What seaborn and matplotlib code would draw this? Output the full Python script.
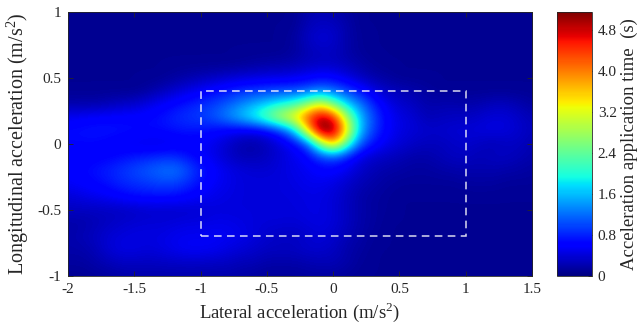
import matplotlib
matplotlib.use("Agg")
import matplotlib.pyplot as plt
import numpy as np
import seaborn as sns
from matplotlib.patches import Rectangle

# grid of the map: lateral acc. (columns) and longitudinal acc. (rows, top to bottom)
lat_acc = np.linspace(-2.0, 1.5, 36)
lon_acc = np.linspace(1.0, -1.0, 21)

# acceleration application time (s), one row per longitudinal value
app_time = [
    # y = 1.0
    [0.1, 0.1, 0.1, 0.1, 0.1, 0.1, 0.1, 0.1, 0.1, 0.1, 0.1, 0.1, 0.1, 0.1, 0.1, 0.1, 0.1, 0.1,
     0.2, 0.25, 0.2, 0.15, 0.1, 0.1, 0.1, 0.1, 0.1, 0.1, 0.1, 0.1, 0.1, 0.1, 0.1, 0.1, 0.1, 0.1],
    # y = 0.9
    [0.1, 0.1, 0.1, 0.1, 0.1, 0.1, 0.1, 0.1, 0.1, 0.1, 0.1, 0.1, 0.1, 0.1, 0.1, 0.1, 0.1, 0.1,
     0.25, 0.3, 0.3, 0.2, 0.1, 0.1, 0.1, 0.1, 0.1, 0.1, 0.1, 0.1, 0.1, 0.1, 0.1, 0.1, 0.1, 0.1],
    # y = 0.8
    [0.1, 0.1, 0.1, 0.1, 0.1, 0.1, 0.1, 0.1, 0.1, 0.1, 0.1, 0.1, 0.1, 0.1, 0.1, 0.1, 0.1, 0.15,
     0.3, 0.4, 0.35, 0.2, 0.12, 0.1, 0.1, 0.1, 0.1, 0.1, 0.1, 0.1, 0.1, 0.1, 0.1, 0.1, 0.1, 0.1],
    # y = 0.7
    [0.1, 0.1, 0.1, 0.1, 0.1, 0.1, 0.1, 0.1, 0.1, 0.1, 0.1, 0.1, 0.1, 0.1, 0.1, 0.1, 0.1, 0.15,
     0.25, 0.3, 0.3, 0.2, 0.12, 0.1, 0.1, 0.1, 0.1, 0.1, 0.1, 0.1, 0.1, 0.1, 0.1, 0.1, 0.1, 0.1],
    # y = 0.6
    [0.1, 0.1, 0.1, 0.1, 0.1, 0.1, 0.1, 0.1, 0.1, 0.1, 0.1, 0.1, 0.1, 0.12, 0.15, 0.18, 0.2, 0.22,
     0.28, 0.3, 0.3, 0.25, 0.18, 0.12, 0.1, 0.1, 0.1, 0.1, 0.1, 0.1, 0.1, 0.1, 0.1, 0.1, 0.1, 0.1],
    # y = 0.5
    [0.1, 0.1, 0.1, 0.1, 0.1, 0.1, 0.1, 0.1, 0.15, 0.2, 0.25, 0.3, 0.35, 0.4, 0.42, 0.45, 0.45, 0.5,
     0.55, 0.65, 0.6, 0.45, 0.3, 0.2, 0.15, 0.1, 0.1, 0.1, 0.1, 0.1, 0.1, 0.1, 0.1, 0.1, 0.1, 0.1],
    # y = 0.4
    [0.1, 0.1, 0.1, 0.1, 0.1, 0.1, 0.15, 0.25, 0.35, 0.45, 0.55, 0.65, 0.75, 0.85, 0.9, 0.95, 1.0, 1.0,
     1.1, 1.25, 1.15, 0.95, 0.7, 0.45, 0.3, 0.25, 0.2, 0.15, 0.1, 0.1, 0.1, 0.1, 0.1, 0.1, 0.1, 0.1],
    # y = 0.3
    [0.2, 0.2, 0.2, 0.25, 0.3, 0.35, 0.45, 0.55, 0.65, 0.75, 0.85, 0.95, 1.1, 1.3, 1.5, 1.7, 1.9, 2.1,
     2.6, 3.2, 2.4, 1.7, 1.25, 0.8, 0.5, 0.35, 0.3, 0.2, 0.22, 0.22, 0.2, 0.22, 0.28, 0.28, 0.22, 0.15],
    # y = 0.2
    [0.5, 0.55, 0.58, 0.6, 0.62, 0.62, 0.65, 0.72, 0.82, 0.9, 0.95, 1.1, 1.35, 1.65, 2.0, 2.5, 3.1, 3.5,
     4.3, 5.0, 4.6, 2.8, 1.6, 1.0, 0.6, 0.45, 0.38, 0.25, 0.28, 0.3, 0.3, 0.35, 0.4, 0.4, 0.32, 0.25],
    # y = 0.1
    [0.7, 0.72, 0.75, 0.75, 0.72, 0.7, 0.68, 0.68, 0.72, 0.75, 0.72, 0.65, 0.58, 0.52, 0.5, 0.6, 0.9, 1.6,
     3.4, 5.3, 5.2, 3.4, 1.6, 0.95, 0.6, 0.45, 0.4, 0.35, 0.35, 0.38, 0.4, 0.42, 0.45, 0.42, 0.35, 0.28],
    # y = 0.0
    [0.65, 0.65, 0.65, 0.6, 0.55, 0.5, 0.45, 0.45, 0.5, 0.55, 0.55, 0.48, 0.35, 0.22, 0.18, 0.28, 0.42, 0.6,
     1.0, 2.6, 3.8, 2.3, 1.1, 0.7, 0.5, 0.4, 0.32, 0.28, 0.28, 0.32, 0.35, 0.3, 0.25, 0.3, 0.3, 0.22],
    # y = -0.1
    [0.6, 0.6, 0.6, 0.62, 0.68, 0.75, 0.8, 0.85, 0.85, 0.72, 0.58, 0.48, 0.35, 0.25, 0.25, 0.3, 0.4, 0.5,
     0.6, 0.9, 1.0, 0.75, 0.45, 0.35, 0.3, 0.25, 0.2, 0.2, 0.25, 0.3, 0.3, 0.25, 0.3, 0.3, 0.25, 0.2],
    # y = -0.2
    [0.6, 0.65, 0.72, 0.8, 0.9, 1.0, 1.1, 1.2, 1.25, 1.05, 0.78, 0.6, 0.48, 0.42, 0.38, 0.38, 0.42, 0.48,
     0.52, 0.62, 0.62, 0.5, 0.35, 0.25, 0.2, 0.18, 0.15, 0.15, 0.18, 0.2, 0.22, 0.22, 0.22, 0.2, 0.18, 0.15],
    # y = -0.3
    [0.55, 0.6, 0.65, 0.72, 0.82, 0.88, 0.92, 0.98, 0.98, 0.85, 0.68, 0.55, 0.48, 0.42, 0.42, 0.42, 0.42, 0.45,
     0.5, 0.5, 0.45, 0.35, 0.25, 0.2, 0.15, 0.12, 0.12, 0.12, 0.12, 0.12, 0.15, 0.15, 0.15, 0.12, 0.12, 0.12],
    # y = -0.4
    [0.4, 0.45, 0.5, 0.55, 0.62, 0.68, 0.7, 0.7, 0.68, 0.62, 0.55, 0.48, 0.45, 0.42, 0.42, 0.42, 0.42, 0.42,
     0.45, 0.45, 0.4, 0.3, 0.2, 0.15, 0.12, 0.1, 0.1, 0.1, 0.1, 0.1, 0.1, 0.1, 0.1, 0.1, 0.1, 0.1],
    # y = -0.5
    [0.3, 0.3, 0.3, 0.3, 0.3, 0.32, 0.35, 0.35, 0.35, 0.35, 0.38, 0.42, 0.42, 0.42, 0.42, 0.42, 0.42, 0.42,
     0.45, 0.45, 0.4, 0.3, 0.2, 0.15, 0.12, 0.1, 0.1, 0.1, 0.1, 0.1, 0.1, 0.1, 0.1, 0.1, 0.1, 0.1],
    # y = -0.6
    [0.2, 0.2, 0.25, 0.3, 0.35, 0.38, 0.4, 0.4, 0.42, 0.45, 0.45, 0.48, 0.48, 0.45, 0.42, 0.4, 0.4, 0.38,
     0.42, 0.45, 0.4, 0.3, 0.2, 0.15, 0.1, 0.1, 0.1, 0.1, 0.1, 0.1, 0.1, 0.1, 0.1, 0.1, 0.1, 0.1],
    # y = -0.7
    [0.2, 0.25, 0.3, 0.38, 0.42, 0.45, 0.45, 0.45, 0.5, 0.52, 0.52, 0.55, 0.52, 0.48, 0.42, 0.35, 0.3, 0.3,
     0.35, 0.4, 0.35, 0.25, 0.18, 0.12, 0.1, 0.1, 0.1, 0.1, 0.1, 0.1, 0.1, 0.1, 0.1, 0.1, 0.1, 0.1],
    # y = -0.8
    [0.2, 0.2, 0.25, 0.38, 0.45, 0.45, 0.4, 0.45, 0.5, 0.55, 0.55, 0.52, 0.45, 0.4, 0.35, 0.3, 0.3, 0.3,
     0.35, 0.35, 0.3, 0.2, 0.15, 0.1, 0.1, 0.1, 0.1, 0.1, 0.1, 0.1, 0.1, 0.1, 0.1, 0.1, 0.1, 0.1],
    # y = -0.9
    [0.15, 0.15, 0.2, 0.25, 0.3, 0.3, 0.3, 0.3, 0.32, 0.32, 0.32, 0.3, 0.3, 0.25, 0.25, 0.2, 0.2, 0.2,
     0.22, 0.25, 0.25, 0.2, 0.12, 0.1, 0.1, 0.1, 0.1, 0.1, 0.1, 0.1, 0.1, 0.1, 0.1, 0.1, 0.1, 0.1],
    # y = -1.0
    [0.1, 0.1, 0.12, 0.15, 0.18, 0.2, 0.2, 0.2, 0.2, 0.2, 0.2, 0.2, 0.2, 0.18, 0.15, 0.12, 0.12, 0.12,
     0.15, 0.15, 0.15, 0.12, 0.1, 0.1, 0.1, 0.1, 0.1, 0.1, 0.1, 0.1, 0.1, 0.1, 0.1, 0.1, 0.1, 0.1],
]

# dashed region on the map
box_lat = [-1.0, 1.0]
box_lon = [-0.7, 0.4]

x_ticks = [-2, -1.5, -1, -0.5, 0, 0.5, 1, 1.5]
x_tick_labels = ['-2', '-1.5', '-1', '-0.5', '0', '0.5', '1', '1.5']
y_ticks = [-1, -0.5, 0, 0.5, 1]
y_tick_labels = ['-1', '-0.5', '0', '0.5', '1']
cbar_ticks = [0, 0.8, 1.6, 2.4, 3.2, 4.0, 4.8]
cbar_tick_labels = ['0', '0.8', '1.6', '2.4', '3.2', '4.0', '4.8']
time_max = 5.15

sns.set_theme(style="ticks")
plt.rcParams['font.family'] = ['Liberation Serif', 'DejaVu Serif']
plt.rcParams['mathtext.fontset'] = 'custom'
plt.rcParams['mathtext.rm'] = 'Liberation Serif'
plt.rcParams['axes.unicode_minus'] = False

txt = '#262626'
fig = plt.figure(figsize=(6.41, 3.33), dpi=100)
ax = fig.add_axes([0.106, 0.171, 0.724, 0.793])
cax = fig.add_axes([0.869, 0.171, 0.055, 0.793])

cmap = plt.get_cmap('jet')
dx = (lat_acc[1] - lat_acc[0]) / 2
dy = (lon_acc[0] - lon_acc[1]) / 2
im = ax.imshow(np.array(app_time), cmap=cmap, vmin=0, vmax=time_max,
               interpolation='bicubic', aspect='auto',
               extent=[lat_acc[0] - dx, lat_acc[-1] + dx, lon_acc[-1] - dy, lon_acc[0] + dy])

ax.add_patch(Rectangle((box_lat[0], box_lon[0]), box_lat[1] - box_lat[0], box_lon[1] - box_lon[0],
                       fill=False, ec='white', lw=1.1, ls=(0, (5, 3.5)), alpha=0.85))

ax.set_xlim(-2, 1.5)
ax.set_ylim(-1, 1)
ax.set_xticks(x_ticks)
ax.set_xticklabels(x_tick_labels)
ax.set_yticks(y_ticks)
ax.set_yticklabels(y_tick_labels)
ax.tick_params(direction='in', top=True, right=True, length=3.5, width=0.6,
               labelsize=11, colors=txt, pad=5)
for s in ax.spines.values():
    s.set_color(txt)
    s.set_linewidth(0.6)
ax.set_xlabel('Lateral acceleration (m/s$^{\\mathrm{2}}$)', fontsize=13.5, color=txt, labelpad=3)
ax.set_ylabel('Longitudinal acceleration (m/s$^{\\mathrm{2}}$)', fontsize=14.5, color=txt, labelpad=4)

cb = fig.colorbar(im, cax=cax, ticks=cbar_ticks)
cb.ax.set_yticklabels(cbar_tick_labels)
cb.ax.tick_params(direction='in', length=3, width=0.6, labelsize=11, colors=txt, pad=4)
cb.outline.set_linewidth(0.6)
cb.outline.set_edgecolor(txt)
cb.set_label('Acceleration application time  (s)', fontsize=13.5, color=txt, labelpad=3)

fig.savefig('out.png', dpi=100)
